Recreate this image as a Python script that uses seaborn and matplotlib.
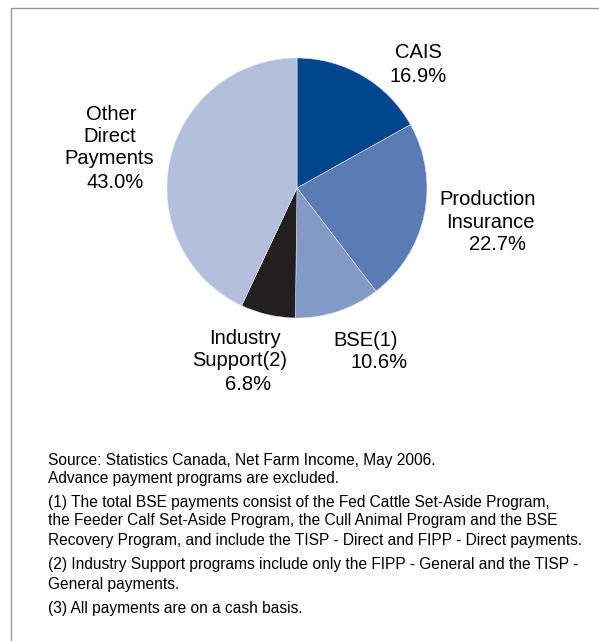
import matplotlib
matplotlib.use("Agg")
import matplotlib.pyplot as plt
import seaborn as sns
from matplotlib.lines import Line2D

sns.set_style("white")
plt.rcParams['font.family'] = ['Liberation Sans', 'DejaVu Sans']

categories = ["CAIS", "Production Insurance", "BSE(1)", "Industry Support(2)", "Other Direct Payments"]
values = [16.9, 22.7, 10.6, 6.8, 43.0]
pct_labels = ["16.9%", "22.7%", "10.6%", "6.8%", "43.0%"]
colors = sns.color_palette(["#00468C", "#5A7BB4", "#8599C7", "#231F20", "#B3BFDD"])

footnotes = [
    "Source: Statistics Canada, Net Farm Income, May 2006.",
    "Advance payment programs are excluded.",
    "(1) The total BSE payments consist of the Fed Cattle Set-Aside Program,",
    "the Feeder Calf Set-Aside Program, the Cull Animal Program and the BSE",
    "Recovery Program, and include the TISP - Direct and FIPP - Direct payments.",
    "(2) Industry Support programs include only the FIPP - General and the TISP -",
    "General payments.",
    "(3) All payments are on a cash basis.",
]

W, H = 599, 641
fig = plt.figure(figsize=(W / 100, H / 100), dpi=100)

cx, cy, r = 297, 188, 130
ax = fig.add_axes([(cx - r) / W, (H - cy - r) / H, 2 * r / W, 2 * r / H])
ax.pie(values, colors=colors, startangle=90, counterclock=False, radius=1,
       wedgeprops=dict(edgecolor="#dde3ef", linewidth=0.4))
ax.set_xlim(-1, 1)
ax.set_ylim(-1, 1)
ax.axis("off")

def ptext(x, y, s, size=14.5, ha="center"):
    fig.text(x / W, 1 - y / H, s, ha=ha, va="center", fontsize=size, color="black")

# labels (line by line, pixel positions)
ptext(418, 53, categories[0])
ptext(418, 76, pct_labels[0])
ptext(488, 200, "Production")
ptext(490, 222, "Insurance")
ptext(497, 245, pct_labels[1])
ptext(366, 340, categories[2])
ptext(379, 363, pct_labels[2])
ptext(245, 339, "Industry")
ptext(240, 361, "Support(2)")
ptext(248, 384, pct_labels[3])
ptext(111, 115, "Other")
ptext(110, 137, "Direct")
ptext(109, 159, "Payments")
ptext(115, 183, pct_labels[4])

ys = [460, 478, 502, 521, 540, 565, 584, 608]
for y, s in zip(ys, footnotes):
    ptext(48, y, s, size=11.2, ha="left")

# frame lines (left and top)
fig.add_artist(Line2D([11 / W, 11 / W], [0, 1 - 8 / H], transform=fig.transFigure, color="#999999", lw=1))
fig.add_artist(Line2D([11 / W, 1], [1 - 8 / H, 1 - 8 / H], transform=fig.transFigure, color="#999999", lw=1))

fig.savefig("out.png", dpi=100)
